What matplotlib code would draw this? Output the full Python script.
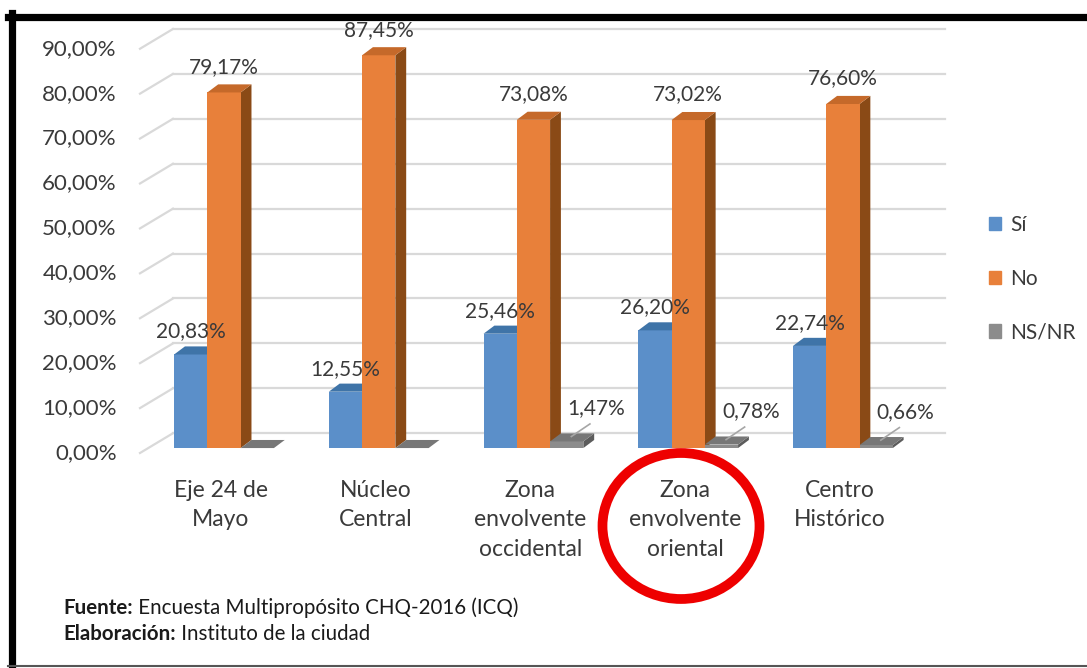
import matplotlib
matplotlib.use("Agg")
import matplotlib.pyplot as plt
from matplotlib.patches import Polygon, Rectangle, Ellipse
from matplotlib.lines import Line2D

# datos
zonas = ["Eje 24 de\nMayo", "Núcleo\nCentral", "Zona\nenvolvente\noccidental",
         "Zona\nenvolvente\noriental", "Centro\nHistórico"]
si = [20.83, 12.55, 25.46, 26.20, 22.74]
no = [79.17, 87.45, 73.08, 73.02, 76.60]
nsnr = [0.0, 0.0, 1.47, 0.78, 0.66]
series = ["Sí", "No", "NS/NR"]
ticks_y = [0, 10, 20, 30, 40, 50, 60, 70, 80, 90]
fuente = "Encuesta Multipropósito CHQ-2016 (ICQ)"
elaboracion = "Instituto de la ciudad"

W, H = 1087, 668
plt.rcParams['font.family'] = ['Lato', 'DejaVu Sans']
txt_color = '#3a3a3a'

# colores: frente, tapa, lateral
col_si = ('#5b8fc9', '#3f74a8', '#2f5a88')
col_no = ('#e8803a', '#c5692a', '#8a4a16')
col_ns = ('#8c8c8c', '#777777', '#5c5c5c')


def fmt(v):
    return f"{v:.2f}".replace(".", ",") + "%"


fig = plt.figure(figsize=(W / 100, H / 100), dpi=100)
xl, xr = -0.543, 4.66
y_top = 96.4
ax = fig.add_axes([140 / W, 1 - 453 / H, (945 - 140) / W, (453 - 20) / H])
ax.set_xlim(xl, xr)
ax.set_ylim(0, y_top)
ax.axis('off')

# profundidad de la pared y de las barras
dxw, dyw = 0.213, 4.4
dxb, dyb = 0.07, 1.8
base = 1.1
w = 0.215

# rejilla en la pared del fondo y lateral
for t in ticks_y:
    ax.plot([xl + dxw, xr], [t + dyw, t + dyw], color='#d9d9d9', lw=1.6, zorder=0.5, clip_on=False)
    ax.plot([xl, xl + dxw], [t, t + dyw], color='#d9d9d9', lw=1.6, zorder=0.5, clip_on=False)
    ax.text(xl - 0.15, t, fmt(t), ha='right', va='center', fontsize=16, color=txt_color)


def barra(x, v, cols):
    front, top, side = cols
    r = x + w / 2
    l = x - w / 2
    ax.add_patch(Polygon([(r, base), (r + dxb, base + dyb), (r + dxb, base + v + dyb), (r, base + v)],
                         closed=True, facecolor=side, edgecolor='none', clip_on=False))
    ax.bar(x, v, w, bottom=base, color=front, linewidth=0, clip_on=False)
    ax.add_patch(Polygon([(l, base + v), (l + dxb, base + v + dyb), (r + dxb, base + v + dyb), (r, base + v)],
                         closed=True, facecolor=top, edgecolor='none', clip_on=False))


for i in range(len(zonas)):
    barra(i - w, si[i], col_si)
    barra(i, no[i], col_no)
    barra(i + w, nsnr[i], col_ns)

    ax.text(i - w, si[i] + 6.2, fmt(si[i]), ha='center', va='center', fontsize=15, color=txt_color)
    ax.text(i, no[i] + 6.8, fmt(no[i]), ha='center', va='center', fontsize=15, color=txt_color)
    if nsnr[i] > 0:
        gx = i + w + 0.03
        ax.plot([gx, gx + 0.12], [nsnr[i] + 2.2, nsnr[i] + 5.0], color='#a6a6a6', lw=1.2, clip_on=False)
        ax.text(i + w + 0.19, nsnr[i] + 8.5, fmt(nsnr[i]), ha='center', va='center',
                fontsize=15, color=txt_color)

    ax.text(i - 0.02, -6.0, zonas[i], ha='center', va='top', fontsize=16.5,
            color=txt_color, linespacing=1.5)

# leyenda
handles = [Rectangle((0, 0), 1, 1, color=c[0]) for c in (col_si, col_no, col_ns)]
fig.legend(handles, series, loc='upper left', bbox_to_anchor=(970 / W, 1 - 196 / H),
           frameon=False, handlelength=0.6, handleheight=0.6, handletextpad=0.45,
           labelspacing=1.62, fontsize=15, labelcolor=txt_color)

# fuente
t1 = fig.text(63 / W, 1 - 608 / H, "Fuente:", weight='bold', fontsize=14.8, va='center', color='#1a1a1a')
ax.annotate(" " + fuente, xy=(1, 0.5), xycoords=t1, va='center', fontsize=14.8, color='#1a1a1a')
t2 = fig.text(63 / W, 1 - 634 / H, "Elaboración:", weight='bold', fontsize=14.8, va='center', color='#1a1a1a')
ax.annotate(" " + elaboracion, xy=(1, 0.5), xycoords=t2, va='center', fontsize=14.8, color='#1a1a1a')

# círculo rojo
fig.patches.append(Ellipse((681 / W, 1 - 526 / H), 157 / W, 146 / H, transform=fig.transFigure,
                           fill=False, edgecolor='#ee0000', lw=7))

# marco
fig.lines.append(Line2D([8 / W, 1], [1 - 16.5 / H, 1 - 16.5 / H], transform=fig.transFigure, color='black', lw=5.2))
fig.lines.append(Line2D([11.5 / W, 11.5 / W], [1 - 13 / H, 1 - 664 / H], transform=fig.transFigure, color='black', lw=5.2))
fig.lines.append(Line2D([8 / W, 1], [1 - 665.5 / H, 1 - 665.5 / H], transform=fig.transFigure, color='#555555', lw=1.5))

fig.savefig("out.png", dpi=100, facecolor='white')
